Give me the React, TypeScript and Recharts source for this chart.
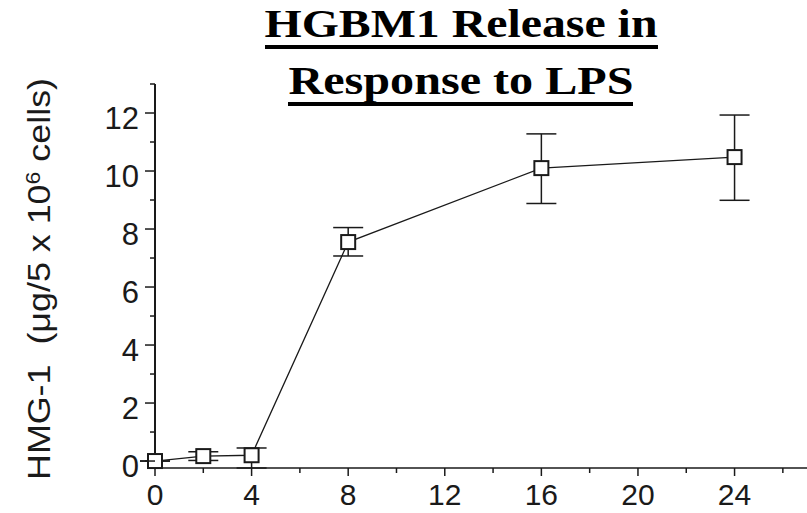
import React from "react";
import { LineChart, Line, XAxis, YAxis, ErrorBar } from "recharts";

// HMG-1 release time course (hours after LPS)
const hours = [0, 2, 4, 8, 16, 24];
const hmg1 = [0, 0.17, 0.2, 7.55, 10.1, 10.48];
const errDown = [0, 0.15, 0.44, 0.48, 1.22, 1.49];
const errUp = [0, 0.15, 0.25, 0.5, 1.18, 1.45];

const xTicks = [0, 2, 4, 6, 8, 10, 12, 14, 16, 18, 20, 22, 24, 26];
const xLabelled = [0, 4, 8, 12, 16, 20, 24];
const yTicks = [0, 1, 2, 3, 4, 5, 6, 7, 8, 9, 10, 11, 12, 13];
const yLabelled = [0, 2, 4, 6, 8, 10, 12];

const titleLines = ["HGBM1 Release in", "Response to LPS"];

const data = hours.map((h, i) => ({ h, v: hmg1[i], err: [errDown[i], errUp[i]] }));

const INK = "#1a1a1a";
const SANS = "Liberation Sans";
const SERIF = "Liberation Serif";

function XTick(props: any) {
  const { x, y, payload } = props;
  const major = xLabelled.includes(payload.value);
  return (
    <g>
      <line x1={x} y1={y} x2={x} y2={y + (major ? 8 : 5)} stroke={INK} strokeWidth={1.5} />
      {major && (
        <text x={x} y={y + 37} textAnchor="middle" fontFamily={SANS} fontSize={30} fill={INK}>
          {payload.value}
        </text>
      )}
    </g>
  );
}

function YTick(props: any) {
  const { x, y, payload } = props;
  const major = yLabelled.includes(payload.value);
  return (
    <g>
      <line x1={x} y1={y} x2={x - (major ? 10 : 5)} y2={y} stroke={INK} strokeWidth={1.5} />
      {major && (
        <text x={x - 16} y={y + 16} textAnchor="end" fontFamily={SANS} fontSize={31} fill={INK}>
          {payload.value}
        </text>
      )}
    </g>
  );
}

function SquareDot(props: any) {
  const { cx, cy } = props;
  if (cx == null || cy == null) return null;
  return <rect x={cx - 7} y={cy - 7} width={14} height={14} fill="#fff" stroke={INK} strokeWidth={2} />;
}

export default function App() {
  return (
    <div style={{ position: "relative", width: 807, height: 513, background: "#fff" }}>
      <style>{`body{margin:0}`}</style>
      <LineChart width={807} height={513} data={data} margin={{ top: 84, right: 0, bottom: 0, left: 0 }}>
        <XAxis
          type="number"
          dataKey="h"
          domain={[0, 27]}
          ticks={xTicks}
          height={45}
          tickSize={0}
          tickMargin={0}
          tick={<XTick />}
          axisLine={{ stroke: INK, strokeWidth: 1.5 }}
          interval={0}
        />
        <YAxis
          type="number"
          domain={[0, 13]}
          ticks={yTicks}
          width={155}
          tickSize={0}
          tickMargin={0}
          tick={<YTick />}
          axisLine={{ stroke: INK, strokeWidth: 2 }}
          interval={0}
        />
        <Line
          dataKey="v"
          type="linear"
          stroke={INK}
          strokeWidth={1.3}
          dot={<SquareDot />}
          activeDot={false}
          isAnimationActive={false}
        >
          <ErrorBar dataKey="err" width={15} stroke={INK} strokeWidth={1.5} direction="y" />
        </Line>
      </LineChart>
      <svg width={807} height={513} style={{ position: "absolute", left: 0, top: 0, pointerEvents: "none" }}>
        <text x={461} y={37} textAnchor="middle" fontFamily={SERIF} fontWeight="bold" fontSize={41} fill="#000"
          textLength={393} lengthAdjust="spacingAndGlyphs">
          {titleLines[0]}
        </text>
        <rect x={265} y={45} width={393} height={4} fill="#000" />
        <text x={461} y={94} textAnchor="middle" fontFamily={SERIF} fontWeight="bold" fontSize={41} fill="#000"
          textLength={345} lengthAdjust="spacingAndGlyphs">
          {titleLines[1]}
        </text>
        <rect x={288} y={102} width={345} height={4} fill="#000" />
        <g transform="translate(50, 279) rotate(-90)">
          <text x={0} y={0} textAnchor="middle" fontFamily={SANS} fontSize={31} fill={INK}
            textLength={402} lengthAdjust="spacingAndGlyphs" style={{ whiteSpace: "pre" }}>
            {"HMG-1  (μg/5 x 10"}
            <tspan dy={-10} fontSize={20}>6</tspan>
            <tspan dy={10}>{" cells)"}</tspan>
          </text>
        </g>
      </svg>
    </div>
  );
}
